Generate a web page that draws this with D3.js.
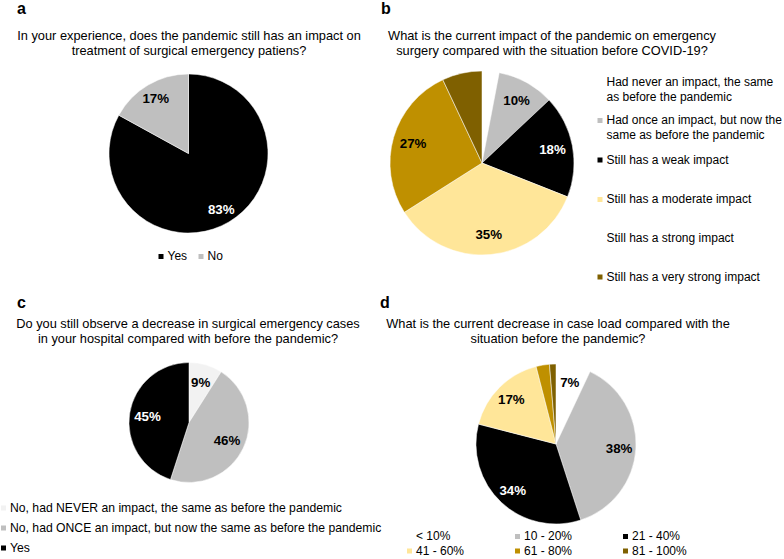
<!DOCTYPE html>
<html><head><meta charset="utf-8">
<script src="https://cdn.jsdelivr.net/npm/d3@7"></script>
<style>body{margin:0;background:#fff} svg{display:block;font-family:"Liberation Sans",Arial,Helvetica,sans-serif}</style>
</head><body><svg id="chart" width="784" height="559"></svg>
<script>
// ---------- data ----------
const aTitle = ["In your experience, does the pandemic still has an impact on", "treatment of surgical emergency patiens?"];
const aCategories = ["Yes", "No"];
const aValues = [83, 17];

const bTitle = ["What is the current impact of the pandemic on emergency", "surgery compared with the situation before COVID-19?"];
const bCategories = [
  ["Had never an impact, the same", "as before the pandemic"],
  ["Had once an impact, but now the", "same as before the pandemic"],
  ["Still has a weak impact"],
  ["Still has a moderate impact"],
  ["Still has a strong impact"],
  ["Still has a very strong impact"]
];
const bValues = [3, 10, 18, 35, 27, 7];

const cTitle = ["Do you still observe a decrease in surgical emergency cases", "in your hospital compared with before the pandemic?"];
const cCategories = ["No, had NEVER an impact, the same as before the pandemic", "No, had ONCE an impact, but now the same as before the pandemic", "Yes"];
const cValues = [9, 46, 45];

const dTitle = ["What is the current decrease in case load compared with the", "situation before the pandemic?"];
const dCategories = ["< 10%", "10 - 20%", "21 - 40%", "41 - 60%", "61 - 80%", "81 - 100%"];
const dValues = [7, 38, 34, 17, 2.7, 1.3];

// ---------- styles ----------
const aColors = ["#000000", "#BFBFBF"];
const bColors = ["#FFFFFF", "#BFBFBF", "#000000", "#FFE699", "#BF9000", "#7F6000"];
const bLegendColors = ["#FFFFFF", "#BFBFBF", "#000000", "#FFE699", "#FFFFFF", "#7F6000"];
const cColors = ["#F2F2F2", "#BFBFBF", "#000000"];
const dColors = ["#FFFFFF", "#BFBFBF", "#000000", "#FFE699", "#BF9000", "#7F6000"];

const svg = d3.select("#chart");
svg.append("rect").attr("width", 784).attr("height", 559).attr("fill", "#fff");

function panelLetter(t, x, y) {
  svg.append("text").attr("x", x).attr("y", y).attr("font-size", 16).attr("font-weight", "bold").attr("fill", "#000").text(t);
}
function title(lines, cx, y) {
  const t = svg.append("text").attr("text-anchor", "middle").attr("font-size", 12.8).attr("fill", "#000");
  lines.forEach((l, i) => t.append("tspan").attr("x", cx).attr("y", y + i * 15).text(l));
}
function drawPie(values, colors, cx, cy, r, lf, minLabel) {
  const g = svg.append("g").attr("transform", `translate(${cx},${cy})`);
  const pie = d3.pie().sort(null).value(d => d).startAngle(0).endAngle(2 * Math.PI);
  const arcs = pie(values);
  const arc = d3.arc().innerRadius(0).outerRadius(r);
  const labelArc = d3.arc().innerRadius(r * lf).outerRadius(r * lf);
  g.selectAll("path").data(arcs).join("path")
    .attr("d", arc).attr("fill", (d, i) => colors[i]).attr("stroke", "#fff").attr("stroke-width", 0.5);
  g.selectAll("text").data(arcs.filter(d => d.data >= minLabel)).join("text")
    .attr("transform", d => `translate(${labelArc.centroid(d)})`)
    .attr("text-anchor", "middle").attr("dy", "0.36em")
    .attr("font-size", 13.3).attr("font-weight", "bold")
    .attr("fill", d => colors[d.index] === "#000000" ? "#fff" : "#000")
    .text(d => Math.round(d.data) + "%");
}
function legendItem(color, x, y, lines, fs) {
  svg.append("rect").attr("x", x).attr("y", y - 6).attr("width", 5).attr("height", 5).attr("fill", color);
  const t = svg.append("text").attr("font-size", fs).attr("fill", "#000");
  lines.forEach((l, i) => t.append("tspan").attr("x", x + 9).attr("y", y + i * 15).text(l));
}

// ---------- panel a ----------
panelLetter("a", 17, 14);
title(aTitle, 189, 40);
drawPie(aValues, aColors, 188.5, 153.5, 79.5, 0.81, 5);
legendItem(aColors[0], 158.5, 260, [aCategories[0]], 12);
legendItem(aColors[1], 198.5, 260, [aCategories[1]], 12);

// ---------- panel b ----------
panelLetter("b", 381, 14);
title(bTitle, 552, 40);
drawPie(bValues, bColors, 482, 163, 92, 0.78, 8);
const bY = [86, 124, 163.5, 203, 242, 280.5];
bCategories.forEach((lines, i) => legendItem(bLegendColors[i], 597.5, bY[i], lines, 12));

// ---------- panel c ----------
panelLetter("c", 17, 308);
title(cTitle, 188, 328);
drawPie(cValues, cColors, 189, 422.5, 60, 0.7, 5);
cCategories.forEach((c, i) => legendItem(cColors[i], 1, 511.5 + i * 20, [c], 12.2));

// ---------- panel d ----------
panelLetter("d", 380, 308);
title(dTitle, 558, 328);
drawPie(dValues, dColors, 556, 444, 80, 0.79, 5);
dCategories.forEach((c, i) => legendItem(dColors[i], 407 + (i % 3) * 108, 540 + Math.floor(i / 3) * 14.5, [c], 12));
</script></body></html>
